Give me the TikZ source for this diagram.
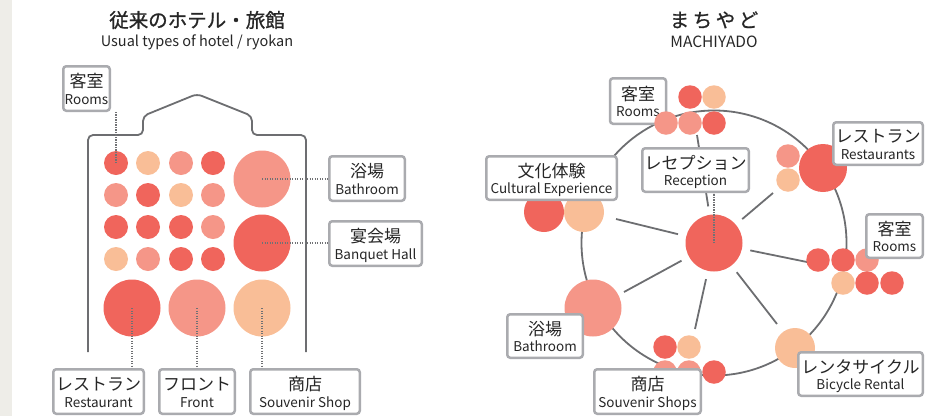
\documentclass[tikz,border=0pt]{standalone}
\usepackage{fontspec}
\setmainfont{Noto Sans CJK JP}
\definecolor{cred}{HTML}{F0655C}
\definecolor{csal}{HTML}{F59688}
\definecolor{cpea}{HTML}{F9BE97}
\definecolor{lgray}{HTML}{6D6E71}
\definecolor{bgray}{HTML}{AAABAF}
\definecolor{dgray}{HTML}{707174}
\definecolor{strip}{HTML}{EEEDE8}
\newcommand\jp[1]{\rule{0pt}{19pt}{\fontsize{17}{17}\selectfont #1}}
\newcommand\en[1]{#1\rule[-4pt]{0pt}{0pt}}
\begin{document}
\begin{tikzpicture}[x=1pt,y=-1pt,
  blob/.style={circle,inner sep=0pt,minimum size=#1,draw=none},
  lbl/.style={draw=bgray,line width=2.5pt,rounded corners=3pt,fill=white,inner sep=0pt,align=center,
    text=black!85,font=\fontsize{13.5}{16.5}\selectfont},
  ln/.style={draw=lgray,line width=1.8pt},
  dotl/.style={draw=dgray,line width=1.5pt,dash pattern=on 1.2pt off 1.3pt},
  ttl/.style={inner sep=0pt,text=black!85,font=\addfontfeature{FakeBold=1}\fontsize{19.5}{20}\selectfont},
  sub/.style={inner sep=0pt,text=black!85,font=\fontsize{14.5}{15}\selectfont}]
\useasboundingbox (0,0) rectangle (929,416);
\fill[strip] (0,0) rectangle (12,416);

% ---------- left titles ----------
\node[ttl] (tl) at (197,20) {従来のホテル・旅館};
\node[sub] (stl) at (197,42) {Usual types of hotel / ryokan};

% building outline
\draw[ln,rounded corners=5pt] (88,352) -- (88,135) -- (143,135) -- (143,116) -- (197,94)
  -- (252,116) -- (252,135) -- (306,135) -- (306,352);

% grid of small circles
\node[blob=24pt,fill=cred] (a11) at (116,163) {};
\node[blob=24pt,fill=cpea] (a12) at (148,163) {};
\node[blob=24pt,fill=csal] (a13) at (181,163) {};
\node[blob=24pt,fill=cred] (a14) at (213,163) {};
\node[blob=24pt,fill=csal] (a21) at (116,195) {};
\node[blob=24pt,fill=cred] (a22) at (148,195) {};
\node[blob=24pt,fill=cpea] (a23) at (181,195) {};
\node[blob=24pt,fill=csal] (a24) at (213,195) {};
\node[blob=24pt,fill=cred] (a31) at (116,227) {};
\node[blob=24pt,fill=cred] (a32) at (148,227) {};
\node[blob=24pt,fill=cred] (a33) at (181,227) {};
\node[blob=24pt,fill=csal] (a34) at (213,227) {};
\node[blob=24pt,fill=cpea] (a41) at (116,259) {};
\node[blob=24pt,fill=csal] (a42) at (148,259) {};
\node[blob=24pt,fill=cred] (a43) at (181,259) {};
\node[blob=24pt,fill=cred] (a44) at (213,259) {};
\node[blob=57pt,fill=csal] (bigA) at (262,179) {};
\node[blob=57pt,fill=cred] (bigB) at (262,243) {};
\node[blob=57pt,fill=cred] (bot1) at (132,308) {};
\node[blob=57pt,fill=csal] (bot2) at (197,308) {};
\node[blob=57pt,fill=cpea] (bot3) at (262,308) {};

% left labels
\node[lbl,minimum width=46.5pt,minimum height=44.5pt] (lroom) at (86.5,88.5) {\jp{客室}\\\en{Rooms}};
\node[lbl,minimum width=75.5pt,minimum height=44.5pt] (lbath) at (367,178.5) {\jp{浴場}\\\en{Bathroom}};
\node[lbl,minimum width=92.5pt,minimum height=44.5pt] (lbanq) at (375.5,243.5) {\jp{宴会場}\\\en{Banquet Hall}};
\node[lbl,minimum width=90.5pt,minimum height=44.5pt] (lrest) at (98.5,391.5) {\jp{レストラン}\\\en{Restaurant}};
\node[lbl,minimum width=75.5pt,minimum height=44.5pt] (lfront) at (197,391.5) {\jp{フロント}\\\en{Front}};
\node[lbl,minimum width=109.5pt,minimum height=44.5pt] (lshop) at (305,391.5) {\jp{商店}\\\en{Souvenir Shop}};

% left dotted connectors
\draw[dotl] (a11.center) -- (a11.center |- lroom.south);
\draw[dotl] (bigA.center) -- (bigA.center -| lbath.west);
\draw[dotl] (bigB.center) -- (bigB.center -| lbanq.west);
\draw[dotl] (bot1.center) -- (bot1.center |- lrest.north);
\draw[dotl] (bot2.center) -- (bot2.center |- lfront.north);
\draw[dotl] (bot3.center) -- (bot3.center |- lshop.north);

% ---------- right titles ----------
\node[ttl] (tr) at (714,20) {ま\kern3.5ptち\kern3.5ptや\kern3.5ptど};
\node[sub,font=\fontsize{15.5}{16}\selectfont] (str) at (714,42) {MACHIYADO};

% ring, center and spokes
\coordinate (rcc) at (714,243);
\draw[ln] (rcc) circle[radius=132.5pt];
\coordinate (e1) at (697,135);
\coordinate (e2) at (773,193);
\coordinate (e3) at (807,262);
\coordinate (e4) at (777,324);
\coordinate (e5) at (695,329);
\coordinate (e6) at (624,292);
\coordinate (e7) at (616,219);
\foreach \e in {e1,e2,e3,e4,e5,e6,e7}{\draw[ln,shorten <=37pt] (rcc) -- (\e);}
\node[blob=57pt,fill=cred] (rc) at (rcc) {};

% restaurants cluster
\node[blob=23.5pt,fill=csal] (rs1) at (788,156) {};
\node[blob=23.5pt,fill=cpea] (rs2) at (788,180) {};
\node[blob=48pt,fill=cred] (rs3) at (823,168) {};
% right rooms cluster
\node[blob=23.5pt,fill=cred] (rr1) at (818,260) {};
\node[blob=23.5pt,fill=cred] (rr2) at (843,260) {};
\node[blob=23.5pt,fill=csal] (rr3) at (867,260) {};
\node[blob=23.5pt,fill=cpea] (rr4) at (843,283) {};
\node[blob=23.5pt,fill=cred] (rr5) at (867,283) {};
\node[blob=23.5pt,fill=cred] (rr6) at (892,283) {};
% souvenir cluster
\node[blob=23.5pt,fill=cred] (ss1) at (665,347) {};
\node[blob=23.5pt,fill=cpea] (ss2) at (689,347) {};
\node[blob=23.5pt,fill=csal] (ss3) at (665,372) {};
\node[blob=23.5pt,fill=csal] (ss4) at (689,372) {};
\node[blob=23.5pt,fill=cred] (ss5) at (714,372) {};
% bicycle, bathroom, culture
\node[blob=40pt,fill=cpea] (bc) at (795,348) {};
\node[blob=57pt,fill=csal] (bt) at (593,308) {};
\node[blob=40pt,fill=cred] (cu1) at (544,212) {};
\node[blob=40pt,fill=cpea] (cu2) at (584,212) {};

% right labels
\node[lbl,minimum width=56pt,minimum height=45.5pt] (rroomT) at (638,101) {\jp{客室}\\\en{Rooms}};
\node[lbl,minimum width=130.5pt,minimum height=43.5pt] (rcul) at (551.5,178) {\jp{文化体験}\\\en{Cultural Experience}};
\node[lbl,minimum width=106.5pt,minimum height=43.5pt] (rrec) at (695.5,170) {\jp{レセプション}\\\en{Reception}};
\node[lbl,minimum width=89.5pt,minimum height=42.5pt] (rrest) at (878,143.5) {\jp{レストラン}\\\en{Restaurants}};
\node[lbl,minimum width=56.5pt,minimum height=43.5pt] (rroomR) at (894.5,236) {\jp{客室}\\\en{Rooms}};
\node[lbl,minimum width=124.5pt,minimum height=43.5pt] (rbike) at (860.5,374) {\jp{レンタサイクル}\\\en{Bicycle Rental}};
\node[lbl,minimum width=106.5pt,minimum height=44.5pt] (rshop) at (647.5,391.5) {\jp{商店}\\\en{Souvenir Shops}};
\node[lbl,minimum width=75.5pt,minimum height=43.5pt] (rbath) at (545,336) {\jp{浴場}\\\en{Bathroom}};

% top rooms cluster (drawn over its label)
\node[blob=23.5pt,fill=cred] (tr1) at (690,97) {};
\node[blob=23.5pt,fill=cpea] (tr2) at (714,97) {};
\node[blob=23.5pt,fill=csal] (tr3) at (666,123) {};
\node[blob=23.5pt,fill=csal] (tr4) at (690,123) {};
\node[blob=23.5pt,fill=cred] (tr5) at (714,123) {};

% reception dotted connector
\draw[dotl] (rc.center) -- (rc.center |- rrec.south);
\end{tikzpicture}
\end{document}
